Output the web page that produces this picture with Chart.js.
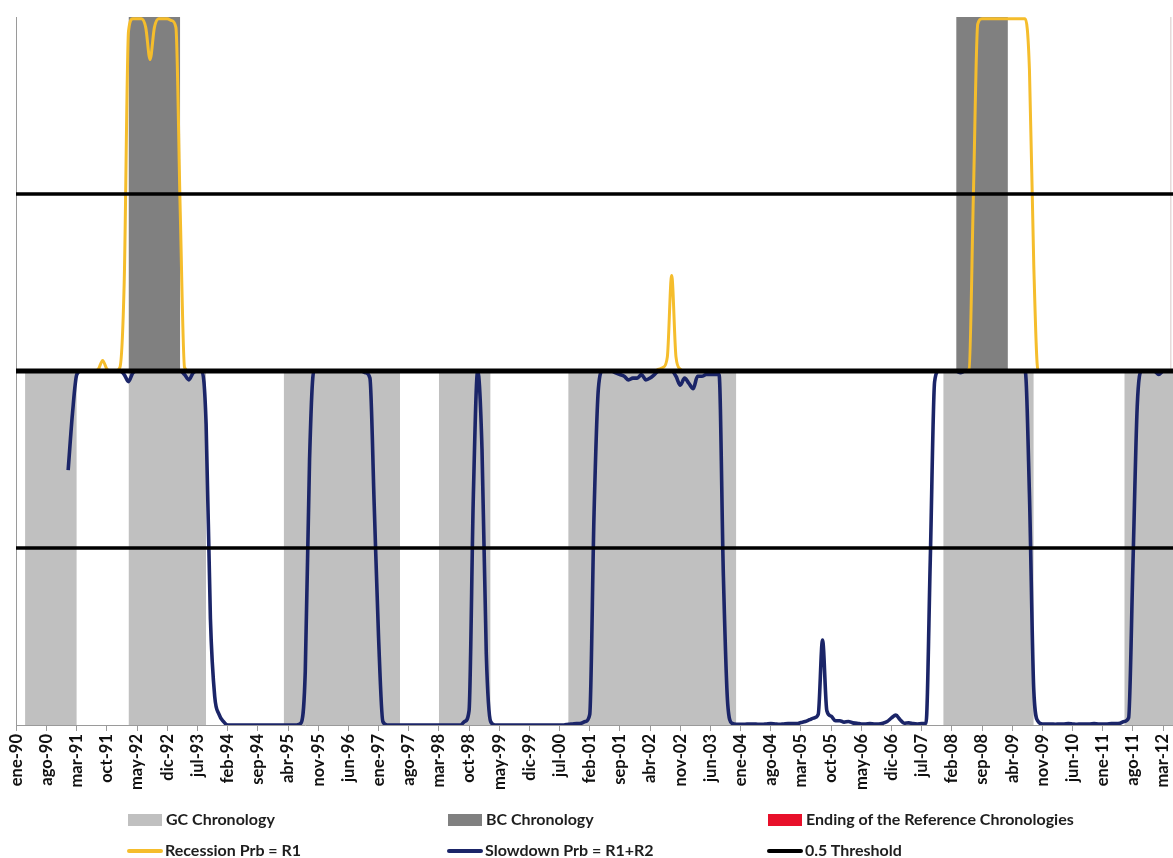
<!DOCTYPE html>
<html><head><meta charset="utf-8">
<script src="https://cdn.jsdelivr.net/npm/chart.js@4.4.1/dist/chart.umd.min.js"></script>
<style>
html,body{margin:0;padding:0;background:#fff;}
#wrap{position:relative;width:1173px;height:858px;overflow:hidden;}
canvas{position:absolute;left:0;top:0;}
.lg{position:absolute;font-family:Lato,'Open Sans',sans-serif;font-weight:700;font-size:16px;color:#1e1e1e;line-height:18px;white-space:nowrap;}
.sw{position:absolute;}
</style></head><body>
<div id="wrap"><canvas id="c" width="1173" height="858"></canvas><div id="legend"></div></div>
<script>
// month index 0 = ene-90
const startMonth = 12; // series start: ene-91
const tickLabels = ['ene-90','ago-90','mar-91','oct-91','may-92','dic-92','jul-93','feb-94','sep-94','abr-95','nov-95','jun-96','ene-97','ago-97','mar-98','oct-98','may-99','dic-99','jul-00','feb-01','sep-01','abr-02','nov-02','jun-03','ene-04','ago-04','mar-05','oct-05','may-06','dic-06','jul-07','feb-08','sep-08','abr-09','nov-09','jun-10','ene-11','ago-11','mar-12'];
const tickStep = 7;

// Recession probability R1 (monthly, from ene-91)
const recessionProb = [
  0,0,0,0,0,0,0,0.005,0.03,0.005,0,0,                 // 1991
  0.01,0.25,0.96,0.995,0.995,0.995,0.97,0.88,0.97,0.995,0.995,0.995, // 1992
  0.99,0.97,0.45,0.01,0,0,0,0,0,0,0,0,               // 1993
  0,0,0,0,0,0,0,0,0,0,0,0,                           // 1994
  0,0,0,0,0,0,0,0,0,0,0,0,                           // 1995
  0,0,0,0,0,0,0,0,0,0,0,0,                           // 1996
  0,0,0,0,0,0,0,0,0,0,0,0,                           // 1997
  0,0,0,0,0,0,0,0,0,0,0,0,                           // 1998
  0,0,0,0,0,0,0,0,0,0,0,0,                           // 1999
  0,0,0,0,0,0,0,0,0,0,0,0,                           // 2000
  0,0,0,0,0,0,0,0,0,0,0,0,                           // 2001
  0,0,0,0,0,0.005,0.01,0.04,0.27,0.04,0.005,0,       // 2002
  0,0,0,0,0,0,0,0,0,0,0,0,                           // 2003
  0,0,0,0,0,0,0,0,0,0,0,0,                           // 2004
  0,0,0,0,0,0,0,0,0,0,0,0,                           // 2005
  0,0,0,0,0,0,0,0,0,0,0,0,                           // 2006
  0,0,0,0,0,0,0,0,0,0,0,0,                           // 2007
  0,0,0,0,0,0.005,0.5,0.98,0.995,0.995,0.995,0.995,  // 2008
  0.995,0.995,0.995,0.995,0.995,0.995,0.995,0.85,0.3,0,0,0, // 2009
  0,0,0,0,0,0,0,0,0,0,0,0,                           // 2010
  0,0,0,0,0,0,0,0,0,0,0,0,                           // 2011
  0,0,0,0,0                                          // 2012
];

// Slowdown probability R1+R2 (monthly, from ene-91)
const slowdownProb = [
  0.72,0.88,0.99,1,1,1,1,1,1,1,1,1,                  // 1991
  1,0.99,0.97,0.995,1,1,1,1,1,1,1,1,                 // 1992
  1,1,1,0.99,0.975,0.995,1,1,0.85,0.3,0.08,0.03,     // 1993
  0.01,0,0,0,0,0,0,0,0,0,0,0,                        // 1994
  0,0,0,0,0,0,0.005,0.15,0.75,1,1,1,                 // 1995
  1,1,1,1,1,1,1,1,1,0.995,0.98,0.62,                 // 1996
  0.25,0.01,0,0,0,0,0,0,0,0,0,0,                     // 1997
  0,0,0,0,0,0,0,0,0.01,0.04,0.65,1,                  // 1998
  0.78,0.2,0.01,0,0,0,0,0,0,0,0,0,                   // 1999
  0,0,0,0,0,0,0,0,0.002,0.003,0.004,0.005,           // 2000
  0.01,0.03,0.6,0.95,1,1,1,0.995,0.99,0.985,0.975,0.98, // 2001
  0.98,0.99,0.975,0.98,0.99,1,1,1,1,0.985,0.96,0.98, // 2002
  0.965,0.95,0.985,0.985,0.99,0.99,0.99,0.99,0.42,0.06,0.005,0.002, // 2003
  0.002,0.002,0.003,0.003,0.002,0.002,0.003,0.004,0.003,0.002,0.003,0.004, // 2004
  0.004,0.004,0.007,0.01,0.015,0.02,0.03,0.24,0.04,0.025,0.012,0.012, // 2005
  0.008,0.01,0.006,0.005,0.003,0.003,0.004,0.003,0.003,0.005,0.01,0.02, // 2006
  0.028,0.015,0.005,0.006,0.004,0.003,0.004,0.005,0.47,0.97,1,1, // 2007
  1,1,1,0.995,1,1,1,1,1,1,1,1,                       // 2008
  1,1,1,1,1,1,1,0.65,0.1,0.01,0.003,0.003,           // 2009
  0.003,0.002,0.003,0.003,0.004,0.003,0.002,0.003,0.003,0.003,0.004,0.003, // 2010
  0.003,0.003,0.004,0.004,0.005,0.01,0.02,0.45,0.9,1,1,1, // 2011
  1,0.99,1,1,1                                       // 2012
];

// Chronologies: [start month, end month]
const gcPeriods = [[2,14],[26,44],[62,89],[98,110],[128,167],[215,236],[257,270]];
const bcPeriods = [[26,38],[218,230]];
const endingMonth = 267.8;
const thresholdValue = 0.5;

const xMin = -0.1, xMax = 268.3;

function seriesPoints(arr, mapY){
  return arr.map((v,i)=>({x:startMonth+i, y:mapY(v)}));
}
function bandPoints(periods, yv){
  const pts=[];
  periods.forEach((p,k)=>{
    pts.push({x:p[0],y:yv},{x:p[1],y:yv});
    if(k<periods.length-1) pts.push({x:(p[1]+periods[k+1][0])/2,y:null});
  });
  return pts;
}
function hLine(v){ return [{x:xMin,y:v},{x:xMax,y:v}]; }

const colors = {gc:'#c0c0c0', bc:'#808080', red:'#e8102a', rec:'#F5BD2C', slow:'#1b2568', thr:'#000000'};

new Chart(document.getElementById('c'), {
  type:'line',
  data:{datasets:[
    {label:'0.5 Threshold', data:hLine(thresholdValue), borderColor:colors.thr, borderWidth:3.5, pointRadius:0, order:0},
    {label:'0.5 Threshold (slowdown)', data:hLine(thresholdValue-1), borderColor:colors.thr, borderWidth:3.5, pointRadius:0, order:0},
    {label:'axis', data:hLine(0), borderColor:colors.thr, borderWidth:5, pointRadius:0, order:0},
    {label:'Recession Prb = R1', data:seriesPoints(recessionProb, v=>v), borderColor:colors.rec, borderWidth:3, pointRadius:0, cubicInterpolationMode:'monotone', order:2},
    {label:'Slowdown Prb = R1+R2', data:seriesPoints(slowdownProb, v=>v-1), borderColor:colors.slow, borderWidth:3.6, pointRadius:0, cubicInterpolationMode:'monotone', order:1},
    {label:'Ending of the Reference Chronologies', data:[{x:endingMonth,y:0},{x:endingMonth,y:1}], borderColor:'rgba(200,175,175,0.7)', borderWidth:1, pointRadius:0, order:9},
    {label:'BC Chronology', data:bandPoints(bcPeriods, 1), borderWidth:0, borderColor:'rgba(0,0,0,0)', backgroundColor:colors.bc, fill:{value:0}, pointRadius:0, spanGaps:false, order:10},
    {label:'GC Chronology', data:bandPoints(gcPeriods, -1), borderWidth:0, borderColor:'rgba(0,0,0,0)', backgroundColor:colors.gc, fill:{value:0}, pointRadius:0, spanGaps:false, order:11}
  ]},
  options:{
    responsive:false, animation:false, events:[],
    layout:{padding:{top:17,left:0,right:0,bottom:0}},
    plugins:{legend:{display:false}, tooltip:{enabled:false}},
    scales:{
      x:{type:'linear', min:xMin, max:xMax,
        afterBuildTicks:s=>{ s.ticks = tickLabels.map((t,i)=>({value:i*tickStep})); },
        afterFit:s=>{ s.height = 133; s.paddingLeft=0; s.paddingRight=0; },
        ticks:{autoSkip:false, minRotation:90, maxRotation:90, padding:3, color:'#111',
          font:{family:'Lato', weight:'bold', size:16.5},
          callback:(v,i)=>tickLabels[i]},
        grid:{drawOnChartArea:false, drawTicks:true, tickLength:6, color:'#9a9a9a'},
        border:{display:true, color:'#9a9a9a', width:1}
      },
      y:{min:-1, max:1,
        afterFit:s=>{ s.width = 16; },
        ticks:{display:false},
        grid:{display:false, drawTicks:false},
        border:{display:true, color:'#9a9a9a', width:1}
      }
    }
  }
});

// legend (HTML text)
const legendItems = [
  {text:'GC Chronology', kind:'box', color:colors.gc, x:128, y:820},
  {text:'BC Chronology', kind:'box', color:colors.bc, x:448, y:820},
  {text:'Ending of the Reference Chronologies', kind:'box', color:colors.red, x:768, y:820},
  {text:'Recession Prb = R1', kind:'line', color:colors.rec, x:127, y:851},
  {text:'Slowdown Prb = R1+R2', kind:'line', color:colors.slow, x:447, y:851},
  {text:'0.5 Threshold', kind:'line', color:colors.thr, x:767, y:851}
];
const lg = document.getElementById('legend');
legendItems.forEach(it=>{
  const sw = document.createElement('div'); sw.className='sw';
  if(it.kind==='box'){ Object.assign(sw.style,{left:it.x+'px',top:(it.y-6)+'px',width:'34px',height:'12px',background:it.color}); }
  else { Object.assign(sw.style,{left:it.x+'px',top:(it.y-2)+'px',width:'36px',height:'4px',background:it.color,borderRadius:'2px'}); }
  lg.appendChild(sw);
  const t = document.createElement('div'); t.className='lg'; t.textContent=it.text;
  Object.assign(t.style,{left:(it.x+38)+'px',top:(it.y-10)+'px'});
  lg.appendChild(t);
});
</script>
</body></html>
